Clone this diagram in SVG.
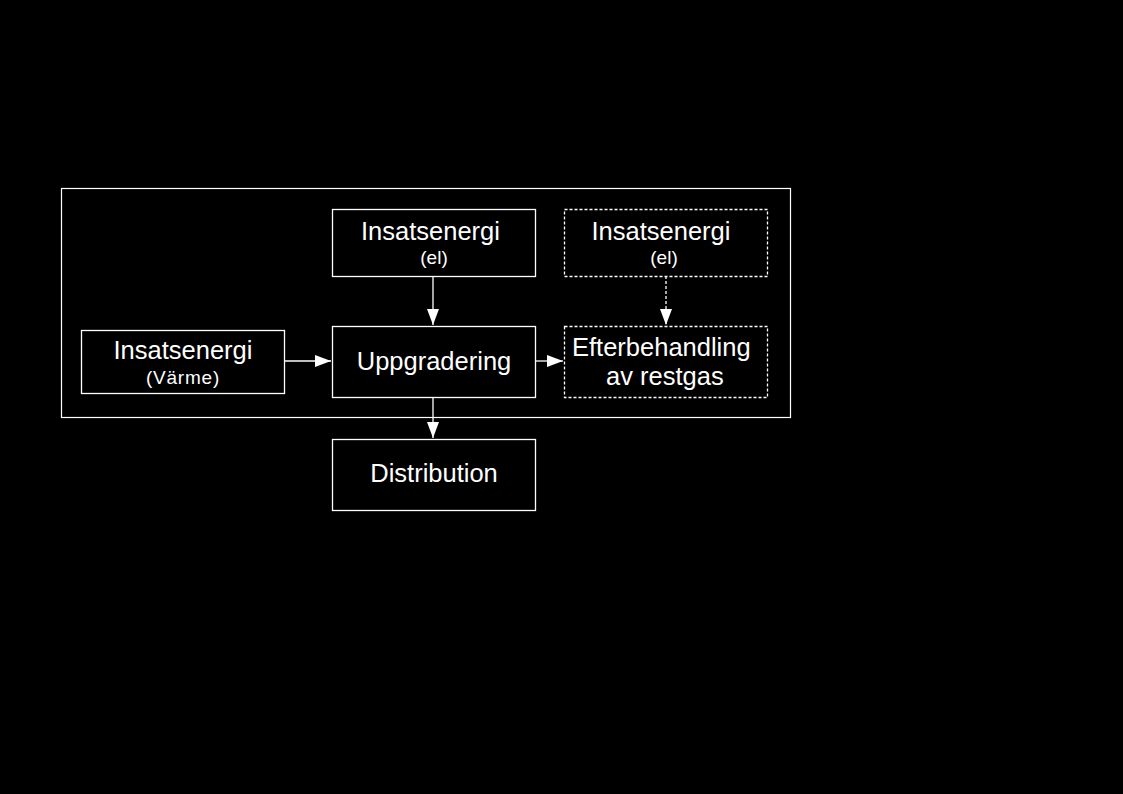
<svg xmlns="http://www.w3.org/2000/svg" width="1123" height="794" viewBox="0 0 1123 794">
<defs>
<style>
.box{fill:#000;stroke:#fff;stroke-width:1.3}
.dash{stroke-dasharray:3,2}
.t{fill:#fff;font-family:"Liberation Sans",Arial,sans-serif;font-size:25.5px;text-anchor:middle}
.st{text-anchor:start}
.s{font-size:19px}
.ln{stroke:#fff;stroke-width:1.3;fill:none}
</style>
</defs>
<rect width="1123" height="794" fill="#000"/>
<rect x="61.5" y="188.5" width="729" height="229" fill="none" stroke="#fff" stroke-width="1.2"/>
<g id="connectors">
<line class="ln" x1="433" y1="276" x2="433" y2="325"/>
<line class="ln" x1="285" y1="361" x2="331" y2="361"/>
<line class="ln" x1="535" y1="361" x2="563" y2="361"/>
<line class="ln dash" x1="666" y1="276" x2="666" y2="325"/>
<line class="ln" x1="433" y1="397" x2="433" y2="438"/>
<path d="M427,309 L439,309 L433,325 Z" fill="#fff"/>
<path d="M315,355 L315,367 L331,361 Z" fill="#fff"/>
<path d="M547,355 L547,367 L563,361 Z" fill="#fff"/>
<path d="M660,309 L672,309 L666,325 Z" fill="#fff"/>
<path d="M427,422 L439,422 L433,438 Z" fill="#fff"/>
</g>
<g id="n-el1">
<rect class="box" x="332.5" y="209.5" width="203" height="67"/>
<text class="t" x="430.5" y="240">Insatsenergi</text>
<text class="t s" x="434" y="264">(el)</text>
</g>
<g id="n-el2">
<rect class="box dash" x="564.5" y="209.5" width="203" height="67"/>
<text class="t" x="661" y="240">Insatsenergi</text>
<text class="t s" x="664" y="264">(el)</text>
</g>
<g id="n-varme">
<rect class="box" x="81.5" y="330.5" width="203" height="63"/>
<text class="t" x="183" y="359">Insatsenergi</text>
<text class="t s" x="183" y="384" letter-spacing="0.8">(Värme)</text>
</g>
<g id="n-upp">
<rect class="box" x="332.5" y="326.5" width="203" height="71"/>
<text class="t" x="434" y="370">Uppgradering</text>
</g>
<g id="n-efter">
<rect class="box dash" x="564.5" y="326.5" width="203" height="71"/>
<text class="t st" x="572" y="356">Efterbehandling</text>
<text class="t st" x="606" y="385">av restgas</text>
</g>
<g id="n-dist">
<rect class="box" x="332.5" y="439.5" width="203" height="71"/>
<text class="t" x="434" y="482">Distribution</text>
</g>
</svg>
